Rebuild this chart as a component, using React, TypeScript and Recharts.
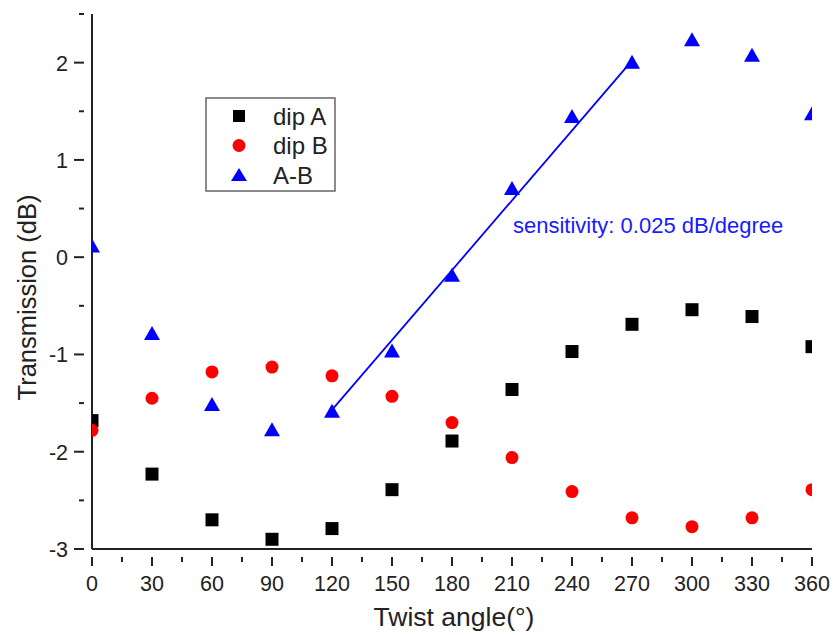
import React from 'react';
import { ComposedChart, Scatter, XAxis, YAxis, ReferenceLine, ReferenceDot, Legend } from 'recharts';

const angles = [0, 30, 60, 90, 120, 150, 180, 210, 240, 270, 300, 330, 360];
const dipA = [-1.68, -2.23, -2.70, -2.90, -2.79, -2.39, -1.89, -1.36, -0.97, -0.69, -0.54, -0.61, -0.92];
const dipB = [-1.78, -1.45, -1.18, -1.13, -1.22, -1.43, -1.70, -2.06, -2.41, -2.68, -2.77, -2.68, -2.39];
const aMinusB = [0.11, -0.79, -1.52, -1.78, -1.59, -0.97, -0.19, 0.70, 1.44, 2.00, 2.23, 2.07, 1.47];

const fitX = [120, 270];
const fitY = [-1.57, 2.02];

const xTicks = [0, 15, 30, 45, 60, 75, 90, 105, 120, 135, 150, 165, 180, 195, 210, 225, 240, 255, 270, 285, 300, 315, 330, 345, 360];
const xMajor = [0, 30, 60, 90, 120, 150, 180, 210, 240, 270, 300, 330, 360];
const yTicks = [-3, -2.5, -2, -1.5, -1, -0.5, 0, 0.5, 1, 1.5, 2, 2.5];
const yMajor = [-3, -2, -1, 0, 1, 2];

const seriesNames = ['dip A', 'dip B', 'A-B'];
const annotation = 'sensitivity: 0.025 dB/degree';
const annotationAt = { x: 210.5, y: 0.3 };

const FONT = '"Liberation Sans", Arial, sans-serif';
const TEXT = '#222';

const dataA = angles.map((x, i) => ({ x, y: dipA[i] }));
const dataB = angles.map((x, i) => ({ x, y: dipB[i] }));
const dataAB = angles.map((x, i) => ({ x, y: aMinusB[i] }));

const Square = (p: any) => <rect x={p.cx - 6.5} y={p.cy - 6.5} width={13} height={13} fill="#000" />;
const Circle = (p: any) => <circle cx={p.cx} cy={p.cy} r={6.5} fill="#ff0000" />;
const Tri = (p: any) => (
  <polygon points={`${p.cx - 8},${p.cy + 6} ${p.cx + 8},${p.cy + 6} ${p.cx},${p.cy - 8}`} fill="#0000ff" />
);

const XTick = (props: any) => {
  const { x, y, payload } = props;
  const major = xMajor.includes(payload.value);
  return (
    <g>
      <line x1={x} x2={x} y1={y} y2={y + (major ? 9 : 5)} stroke="#222" strokeWidth={2} />
      {major && (
        <text x={x} y={y + 34} textAnchor="middle" fontSize={21.5} fill={TEXT} fontFamily={FONT}>
          {payload.value}
        </text>
      )}
    </g>
  );
};

const YTick = (props: any) => {
  const { x, y, payload } = props;
  const major = yMajor.includes(payload.value);
  return (
    <g>
      <line x1={x} x2={x - (major ? 10 : 5)} y1={y} y2={y} stroke="#222" strokeWidth={2} />
      {major && (
        <text x={x - 16} y={y + 8} textAnchor="end" fontSize={21.5} fill={TEXT} fontFamily={FONT}>
          {payload.value}
        </text>
      )}
    </g>
  );
};

const LegendBox = () => {
  const rows = [
    (cx: number, cy: number) => <rect x={cx - 6} y={cy - 6} width={12} height={12} fill="#000" />,
    (cx: number, cy: number) => <circle cx={cx} cy={cy} r={6.5} fill="#ff0000" />,
    (cx: number, cy: number) => (
      <polygon points={`${cx - 8},${cy + 6} ${cx + 8},${cy + 6} ${cx},${cy - 7}`} fill="#0000ff" />
    ),
  ];
  return (
    <svg width={132} height={96} style={{ display: 'block' }}>
      <rect x={1} y={1} width={129} height={93} fill="#fff" stroke="#666" strokeWidth={1.5} />
      {seriesNames.map((n, i) => (
        <g key={n}>
          {rows[i](34, 19 + i * 29.5)}
          <text x={68} y={27.5 + i * 29.5} fontSize={24} fill={TEXT} fontFamily={FONT}>
            {n}
          </text>
        </g>
      ))}
    </svg>
  );
};

const YTitle = (p: any) => {
  const vb = p.viewBox;
  const cx = vb.x + 27;
  const cy = vb.y + vb.height / 2 + 16;
  return (
    <text x={cx} y={cy} transform={`rotate(-90 ${cx} ${cy})`} textAnchor="middle" dominantBaseline="central" fontSize={25.5} fill={TEXT} fontFamily={FONT}>
      Transmission (dB)
    </text>
  );
};

export default function App() {
  return (
    <div style={{ position: 'absolute', left: 0, top: 0, width: 833, height: 635, background: '#fff' }}>
      <ComposedChart width={833} height={635} margin={{ top: 14, right: 21, bottom: 0, left: 0 }}>
        <XAxis
          type="number"
          dataKey="x"
          domain={[0, 360]}
          ticks={xTicks}
          interval={0}
          allowDataOverflow
          axisLine={{ stroke: '#222', strokeWidth: 2 }}
          tickLine={false}
          tick={<XTick />}
          height={86}
          label={{ value: 'Twist angle(°)', position: 'insideBottom', offset: 9, dx: 2, fontSize: 26.5, fill: TEXT, fontFamily: FONT }}
        />
        <YAxis
          type="number"
          dataKey="y"
          domain={[-3, 2.5]}
          ticks={yTicks}
          interval={0}
          allowDataOverflow
          axisLine={{ stroke: '#222', strokeWidth: 2 }}
          tickLine={false}
          tick={<YTick />}
          width={92}
          label={<YTitle />}
        />
        <Legend
          layout="vertical"
          align="center"
          verticalAlign="middle"
          wrapperStyle={{ left: 205, top: 97, width: 132, height: 96 }}
          content={() => <LegendBox />}
        />
        <Scatter name={seriesNames[0]} data={dataA} shape={Square} isAnimationActive={false} />
        <Scatter name={seriesNames[1]} data={dataB} shape={Circle} isAnimationActive={false} />
        <ReferenceLine
          segment={[{ x: fitX[0], y: fitY[0] }, { x: fitX[1], y: fitY[1] }]}
          stroke="#0000ff"
          strokeWidth={1.8}
        />
        <Scatter name={seriesNames[2]} data={dataAB} shape={Tri} isAnimationActive={false} />
        <ReferenceDot
          x={annotationAt.x}
          y={annotationAt.y}
          r={0}
          stroke="none"
          fill="none"
          label={(p: any) => (
            <text x={p.viewBox.x} y={p.viewBox.y + 5} fontSize={22} fill="#1a1aff" fontFamily={FONT}>
              {annotation}
            </text>
          )}
        />
      </ComposedChart>
    </div>
  );
}
